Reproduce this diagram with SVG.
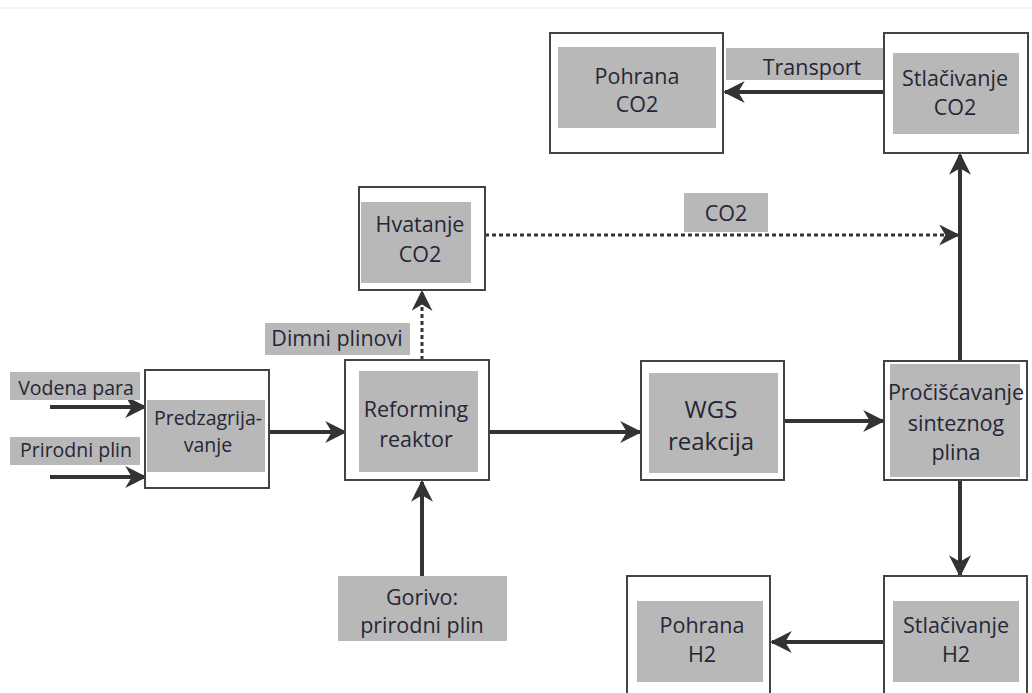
<svg xmlns="http://www.w3.org/2000/svg" width="1032" height="693" viewBox="0 0 1032 693">
<defs>
<marker id="ah" viewBox="0 0 10 10" refX="9" refY="5" markerWidth="5.5" markerHeight="5.5" orient="auto" markerUnits="strokeWidth"><path d="M0,0 L10,5 L0,10 L3,5 Z" fill="#333"/></marker>
<marker id="ahs" viewBox="0 0 10 10" refX="9" refY="5" markerWidth="7" markerHeight="7" orient="auto" markerUnits="strokeWidth"><path d="M0,0 L10,5 L0,10 L3,5 Z" fill="#333"/></marker>
</defs>
<style>
.outer{fill:#fff;stroke:#444;stroke-width:2}
.inner{fill:#b8b8b8}
.lbl{fill:#b8b8b8}
text{font-family:"Open Sans","Noto Sans","Liberation Sans",sans-serif;font-size:21.5px;fill:#262636;text-anchor:middle}
.s{font-size:19.5px}
.c{fill:none;stroke:#333;stroke-width:4}
.d{fill:none;stroke:#333;stroke-width:3;stroke-dasharray:4 3}
</style>
<rect width="1032" height="693" fill="#fff"/>
<line x1="0" y1="8" x2="1032" y2="8" stroke="#ececec" stroke-width="1"/>
<g id="connectors">
<line class="c" x1="886" y1="92" x2="725" y2="92" marker-end="url(#ah)"/>
<line class="c" x1="960" y1="362" x2="960" y2="155" marker-end="url(#ah)"/>
<line class="d" x1="485" y1="235" x2="958" y2="235" marker-end="url(#ahs)"/>
<line class="d" x1="422" y1="360" x2="422" y2="292" marker-end="url(#ahs)"/>
<line class="c" x1="50" y1="407" x2="145" y2="407" marker-end="url(#ah)" stroke-width="3.5"/>
<line class="c" x1="50" y1="477" x2="145" y2="477" marker-end="url(#ah)" stroke-width="3.5"/>
<line class="c" x1="269" y1="432" x2="345" y2="432" marker-end="url(#ah)" stroke-width="3"/>
<line class="c" x1="489" y1="432" x2="640" y2="432" marker-end="url(#ah)"/>
<line class="c" x1="784" y1="421" x2="883" y2="421" marker-end="url(#ah)"/>
<line class="c" x1="960" y1="480" x2="960" y2="575" marker-end="url(#ah)"/>
<line class="c" x1="422" y1="576" x2="422" y2="482" marker-end="url(#ah)" stroke-width="3.5"/>
<line class="c" x1="884" y1="642" x2="772" y2="642" marker-end="url(#ah)"/>
</g>
<g id="lbl-transport"><rect class="lbl" x="726" y="48" width="157" height="32"/><text x="812" y="75">Transport</text></g>
<g id="lbl-co2"><rect class="lbl" x="684" y="193" width="84" height="39"/><text x="726" y="221">CO2</text></g>
<g id="lbl-dimni"><rect class="lbl" x="265" y="323" width="145" height="32"/><text x="337" y="346">Dimni plinovi</text></g>
<g id="lbl-vodena"><rect class="lbl" x="10" y="372" width="130" height="28"/><text class="s" x="76" y="395">Vodena para</text></g>
<g id="lbl-prirodni"><rect class="lbl" x="10" y="437" width="130" height="28"/><text class="s" x="76" y="457">Prirodni plin</text></g>
<g id="pohrana-co2"><rect class="outer" x="550" y="33" width="173" height="120"/><rect class="inner" x="558" y="47" width="158" height="81"/><text x="637" y="84">Pohrana</text><text x="637" y="112">CO2</text></g>
<g id="stlacivanje-co2"><rect class="outer" x="884" y="33" width="144" height="120"/><rect class="inner" x="893" y="53" width="126" height="81"/><text x="955" y="86">Stlačivanje</text><text x="955" y="115">CO2</text></g>
<g id="hvatanje-co2"><rect class="outer" x="359" y="187" width="126" height="103"/><rect class="inner" x="361" y="202" width="110" height="81"/><text x="420" y="232">Hvatanje</text><text x="420" y="262">CO2</text></g>
<g id="predzagrijavanje"><rect class="outer" x="145" y="370" width="124" height="118"/><rect class="inner" x="147" y="400" width="118" height="72"/><text class="s" x="208" y="425">Predzagrija-</text><text class="s" x="208" y="452">vanje</text></g>
<g id="reforming"><rect class="outer" x="345" y="360" width="144" height="120"/><rect class="inner" x="359" y="371" width="119" height="101"/><text x="416" y="417">Reforming</text><text x="416" y="447">reaktor</text></g>
<g id="wgs"><rect class="outer" x="641" y="361" width="143" height="119"/><rect class="inner" x="649" y="373" width="129" height="100"/><text x="711" y="418" style="font-size:24px">WGS</text><text x="711" y="450" style="font-size:24px">reakcija</text></g>
<g id="prociscavanje"><rect class="outer" x="884" y="361" width="143" height="119"/><rect class="inner" x="890" y="364" width="130" height="113"/><text x="956" y="400">Pročišćavanje</text><text x="956" y="431">sinteznog</text><text x="956" y="460">plina</text></g>
<g id="gorivo"><rect class="lbl" x="338" y="576" width="169" height="65"/><text x="422" y="605">Gorivo:</text><text x="422" y="633">prirodni plin</text></g>
<g id="pohrana-h2"><rect class="outer" x="627" y="576" width="143" height="130"/><rect class="inner" x="637" y="601" width="126" height="81"/><text x="702" y="633">Pohrana</text><text x="702" y="662">H2</text></g>
<g id="stlacivanje-h2"><rect class="outer" x="884" y="576" width="143" height="130"/><rect class="inner" x="893" y="601" width="126" height="81"/><text x="956" y="633">Stlačivanje</text><text x="956" y="662">H2</text></g>
</svg>
